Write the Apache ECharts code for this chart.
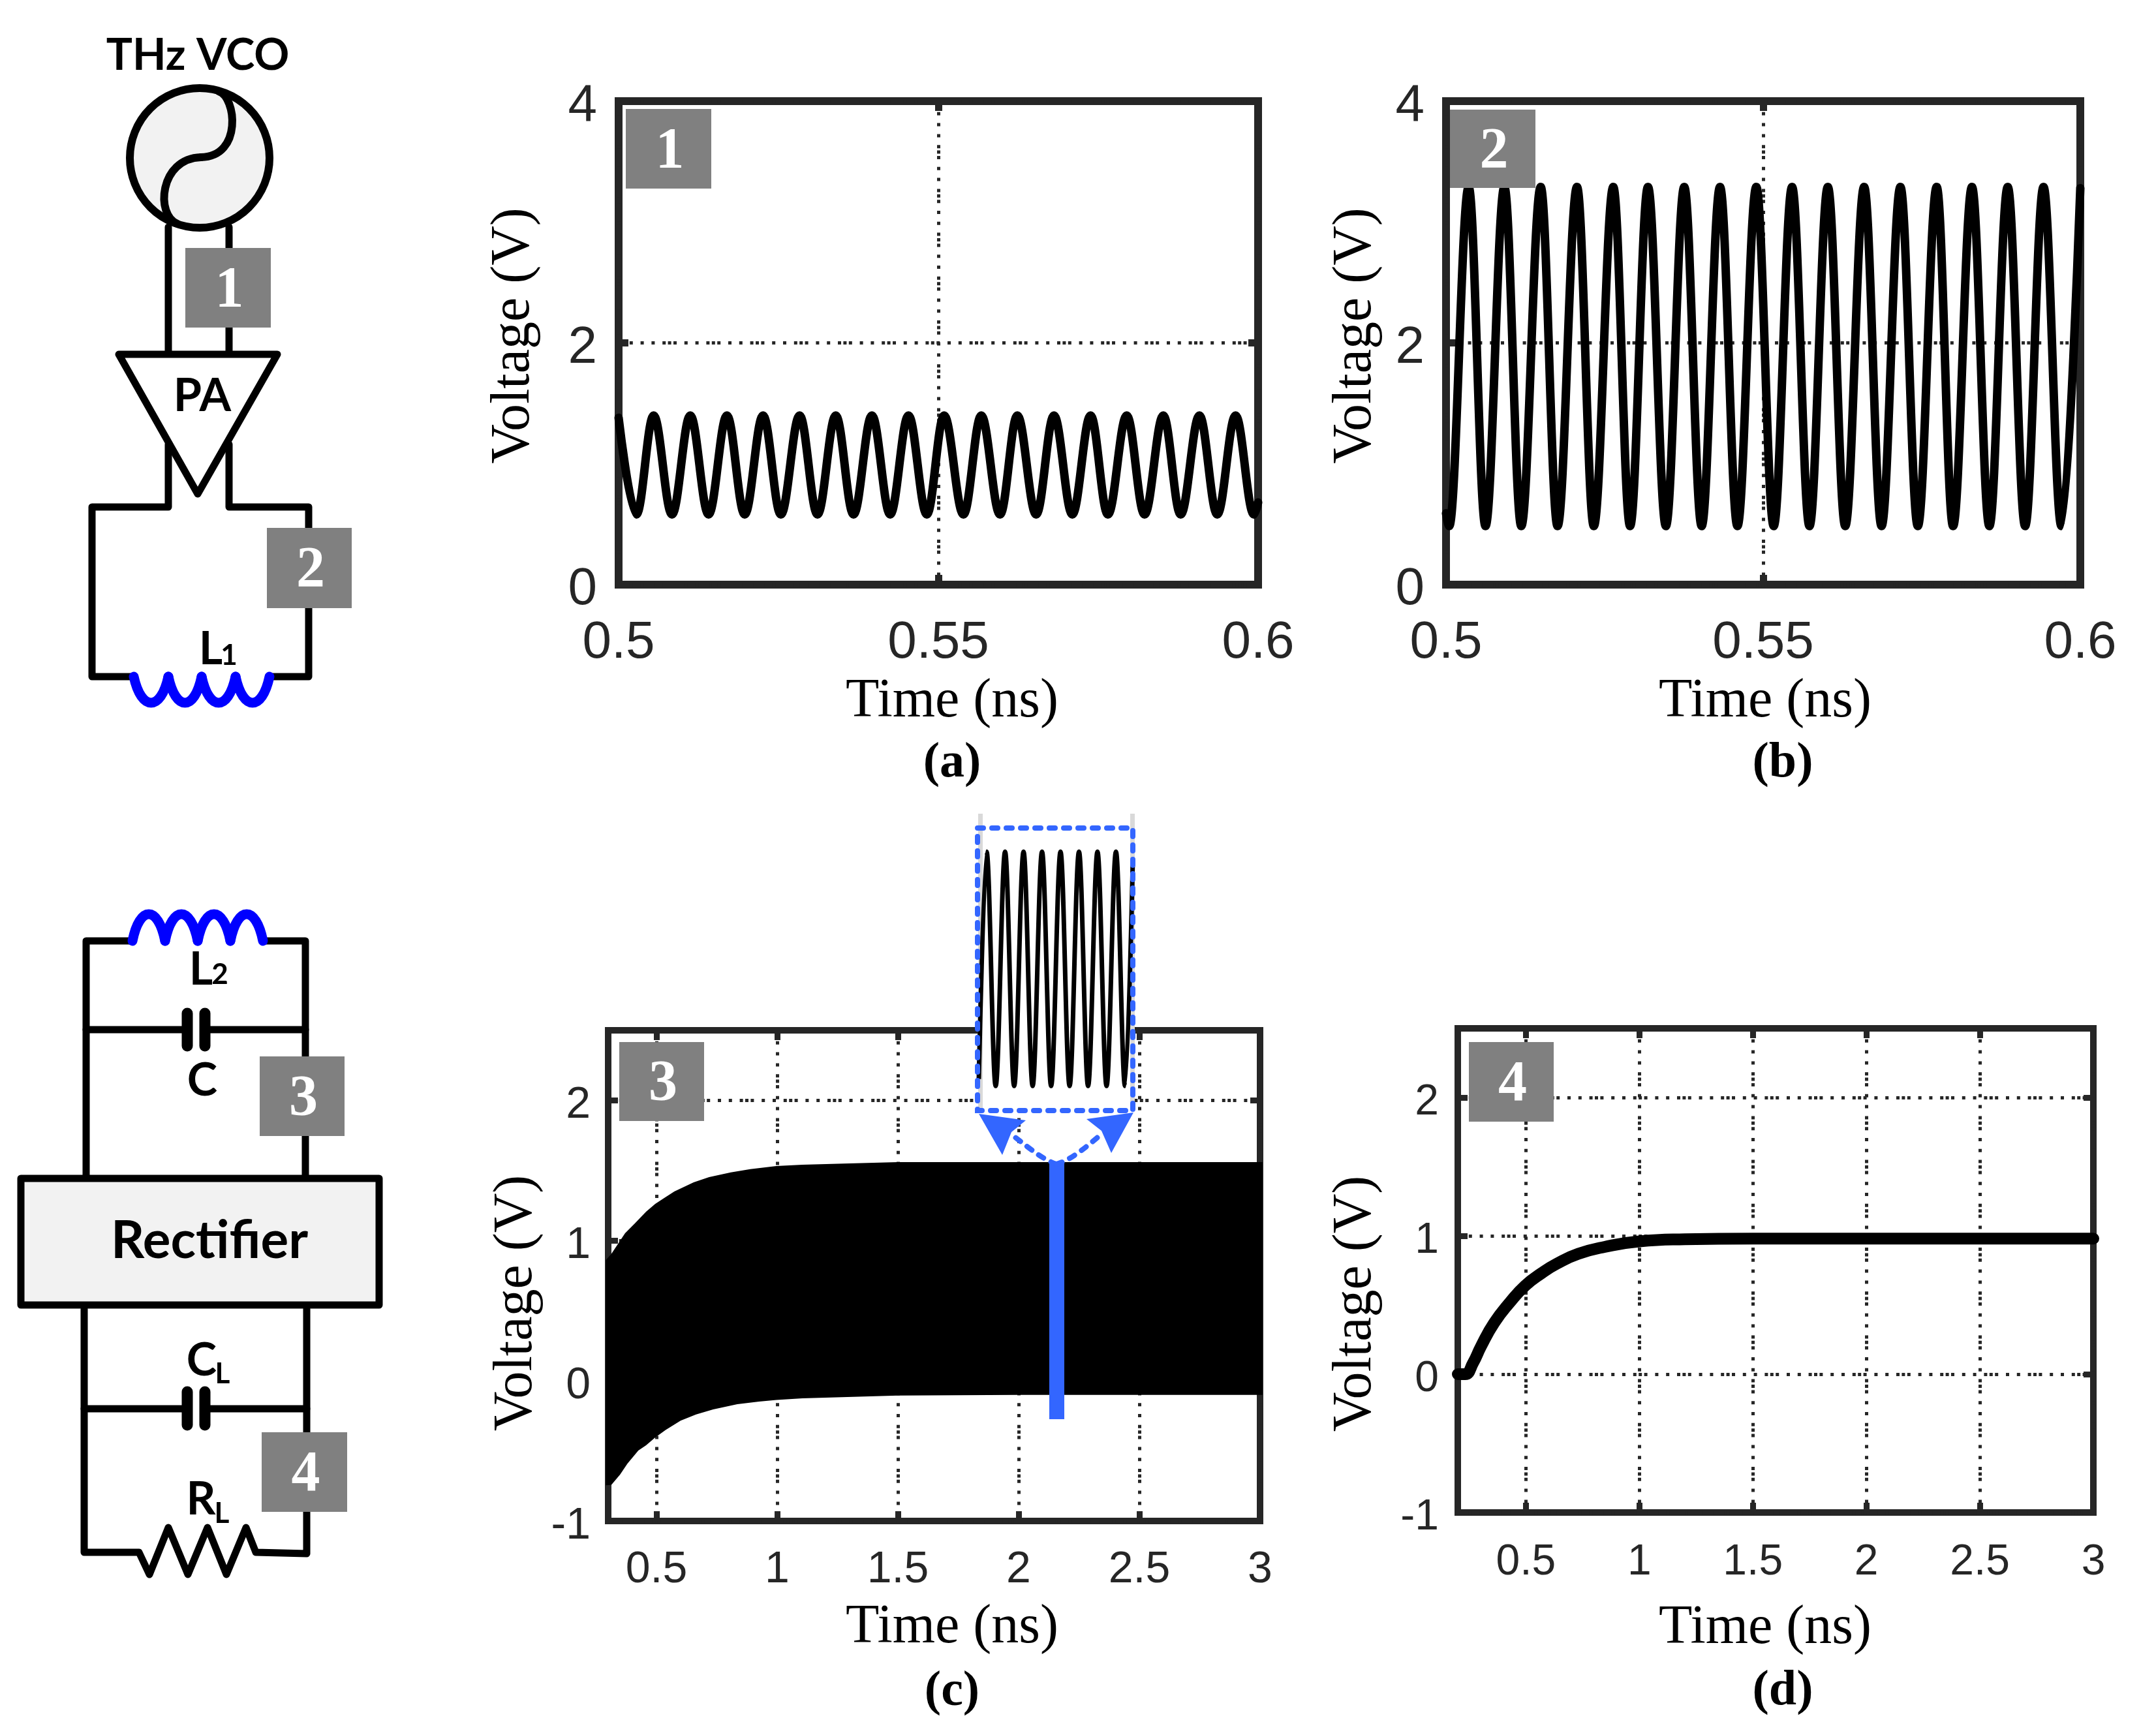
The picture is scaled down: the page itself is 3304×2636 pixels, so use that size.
<!DOCTYPE html>
<html>
<head>
<meta charset="utf-8">
<title>THz VCO waveforms</title>
<style>
html,body{margin:0;padding:0;background:#fff}
#chart{width:3304px;height:2636px}
</style>
<script src="https://cdn.jsdelivr.net/npm/echarts@6/dist/echarts.min.js"></script>
</head>
<body>
<div id="chart"></div>
<script>
// panel (a): node 1, peaks and troughs
var timeA = [0.5,0.50278,0.50548,0.50835,0.51121,0.51407,0.51694,0.51972,0.52259,0.52537,0.52831,0.5311,0.53396,0.53674,0.53961,0.54247,0.54533,0.5482,0.5509,0.55393,0.55671,0.55965,0.56235,0.5653,0.56808,0.57095,0.57381,0.57651,0.57946,0.58224,0.58518,0.58789,0.59083,0.59361,0.59648,0.59934,0.6];
var voltA = [1.38,0.58,1.4,0.58,1.4,0.58,1.4,0.58,1.4,0.58,1.4,0.58,1.4,0.58,1.4,0.58,1.4,0.58,1.4,0.58,1.4,0.58,1.4,0.58,1.4,0.58,1.4,0.58,1.4,0.58,1.4,0.58,1.4,0.58,1.4,0.58,0.68];
// panel (b): node 2
var timeB = [0.5,0.5005,0.50357,0.50622,0.5092,0.51186,0.51493,0.51758,0.52065,0.5233,0.52637,0.52902,0.53184,0.53466,0.53756,0.5403,0.5432,0.54594,0.54892,0.55166,0.55456,0.5573,0.5602,0.56294,0.56592,0.56866,0.57164,0.57438,0.57736,0.57994,0.58292,0.58566,0.58856,0.5913,0.5942,0.59702,0.6];
var voltB = [0.59,0.485,3.29,0.485,3.29,0.485,3.29,0.485,3.29,0.485,3.29,0.485,3.29,0.485,3.29,0.485,3.29,0.485,3.29,0.485,3.29,0.485,3.29,0.485,3.29,0.485,3.29,0.485,3.29,0.485,3.29,0.485,3.29,0.485,3.29,0.485,3.28];
// panel (c): envelope of node 3
var timeUpperC = [0.29,0.313,0.34,0.37,0.411,0.457,0.495,0.529,0.574,0.654,0.718,0.808,0.889,0.997,1.105,1.3,1.5,2,3.01];
var upperC = [0.86,0.905,0.975,1.053,1.123,1.206,1.262,1.3,1.35,1.415,1.453,1.487,1.51,1.532,1.541,1.55,1.56,1.56,1.56];
var timeLowerC = [0.29,0.313,0.349,0.38,0.425,0.457,0.495,0.538,0.6,0.664,0.735,0.835,0.925,0.997,1.105,1.5,2,3.01];
var lowerC = [-0.745,-0.743,-0.669,-0.59,-0.497,-0.46,-0.404,-0.351,-0.284,-0.24,-0.204,-0.167,-0.148,-0.137,-0.125,-0.105,-0.1,-0.1];
// zoomed part of (c)
var timeInset = [2.15,2.1524,2.1552,2.1581,2.1609,2.1638,2.1666,2.1695,2.1723,2.1752,2.178,2.1809,2.1837,2.1866,2.1894,2.1923,2.1951,2.1975];
var voltInset = [-0.05,1.56,-0.1,1.56,-0.1,1.56,-0.1,1.56,-0.1,1.56,-0.1,1.56,-0.1,1.56,-0.1,1.56,-0.1,1.5];
// panel (d): node 4
var timeD = [0.2,0.232,0.267,0.302,0.36,0.43,0.497,0.569,0.638,0.731,0.847,1,1.2,1.5,3];
var voltD = [0,0,0.08,0.2,0.37,0.52,0.64,0.73,0.8,0.87,0.92,0.96,0.975,0.98,0.98];
// ticks
var xTicksTop = [0.5,0.55,0.6];
var yTicksTop = [0,2,4];
var xTicksBottom = [0.5,1,1.5,2,2.5,3];
var yTicksBottom = [-1,0,1,2];

var INK = '#262626';
var BLUE = '#3366ff';
var SANS = '"Liberation Sans"';
var SERIF = '"Liberation Serif"';
var DOTS = [5,3.4,5,3.4,5,11.8,5,11.8,5,11.8];

var grids = [], xAxes = [], yAxes = [], series = [], elements = [];

function pairs(xs, ys){
	return xs.map(function(x, i){ return [x, ys[i]]; });
}

// one framed plot: bottom/left axes carry labels and grid, top/right only the ticks
function addPanel(p){
	grids.push({left:p.left, top:p.top, width:p.width, height:p.height, show:true,
		borderColor:INK, borderWidth:p.frame, backgroundColor:'transparent'});
	var g = grids.length - 1;
	var noLine = {show:false, onZero:false};
	var tick = {show:true, inside:true, length:15, lineStyle:{color:INK, width:p.frame - 1}};
	var grid = {show:true, lineStyle:{color:INK, width:5, type:DOTS}};
	var xLabel = {show:true, customValues:p.xTicks, margin:p.xMargin, color:INK, fontFamily:SANS, fontSize:p.font,
		formatter:function(v){ return String(v); }};
	// the y numbers sit a little under their ticks in the original, a taller line box pushes them down
	var yLabel = {show:true, customValues:p.yTicks, margin:p.yMargin,
		formatter:function(v){ return '{v|' + v + '}'; },
		rich:{v:{color:INK, fontFamily:SANS, fontSize:p.font, lineHeight:p.font + 16, verticalAlign:'bottom'}}};
	var nameStyle = function(pad){
		return {fontFamily:SERIF, fontSize:p.nameFont, color:'#000', padding:pad};
	};
	xAxes.push({type:'value', gridIndex:g, min:p.xMin, max:p.xMax, position:'bottom',
		axisLine:noLine, axisTick:Object.assign({customValues:p.xTicks}, tick), splitLine:grid,
		axisLabel:xLabel, name:'Time (ns)', nameLocation:'middle', nameGap:p.xGap,
		nameTextStyle:nameStyle(p.xPad)});
	xAxes.push({type:'value', gridIndex:g, min:p.xMin, max:p.xMax, position:'top',
		axisLine:noLine, axisTick:Object.assign({customValues:p.xTicks}, tick), splitLine:{show:false},
		axisLabel:{show:false}});
	yAxes.push({type:'value', gridIndex:g, min:p.yMin, max:p.yMax, position:'left',
		axisLine:noLine, axisTick:Object.assign({customValues:p.yTicks}, tick), splitLine:grid,
		axisLabel:yLabel, name:'Voltage (V)', nameLocation:'middle', nameGap:p.yGap,
		nameTextStyle:nameStyle(p.yPad)});
	yAxes.push({type:'value', gridIndex:g, min:p.yMin, max:p.yMax, position:'right',
		axisLine:noLine, axisTick:Object.assign({customValues:p.yTicks}, tick), splitLine:{show:false},
		axisLabel:{show:false}});
	return g * 2;
}

function wave(axis, data, width, smooth, monotone){
	series.push({type:'line', xAxisIndex:axis, yAxisIndex:axis, data:data, showSymbol:false, z:4, silent:true,
		smooth:smooth, smoothMonotone:monotone, lineStyle:{color:'#000', width:width, cap:'round', join:'round'}});
}

var axA = addPanel({left:948, top:155, width:980, height:741, frame:12, font:80, nameFont:84,
	xMin:0.5, xMax:0.6, yMin:0, yMax:4, xTicks:xTicksTop, yTicks:yTicksTop,
	xMargin:50, yMargin:33, xGap:138, yGap:118, xPad:[0,0,0,42], yPad:[0,0,0,22]});
var axB = addPanel({left:2216, top:155, width:972, height:741, frame:12, font:80, nameFont:84,
	xMin:0.5, xMax:0.6, yMin:0, yMax:4, xTicks:xTicksTop, yTicks:yTicksTop,
	xMargin:50, yMargin:33, xGap:138, yGap:96, xPad:[0,0,0,6], yPad:[0,0,0,22]});
var axC = addPanel({left:932, top:1579, width:999, height:752, frame:10, font:68, nameFont:84,
	xMin:0.3, xMax:3, yMin:-1, yMax:2.5, xTicks:xTicksBottom, yTicks:yTicksBottom,
	xMargin:41, yMargin:27, xGap:122, yGap:98, xPad:[0,0,0,55], yPad:[0,84,0,0]});
var axD = addPanel({left:2234, top:1576, width:974, height:742, frame:10, font:66, nameFont:84,
	xMin:0.2, xMax:3, yMin:-1, yMax:2.5, xTicks:xTicksBottom, yTicks:yTicksBottom,
	xMargin:44, yMargin:29, xGap:136, yGap:114, xPad:[0,32,0,0], yPad:[0,102,0,0]});

wave(axA, pairs(timeA, voltA), 13, 0.36, 'x');
wave(axB, pairs(timeB, voltB), 13, 0.36, 'x');
wave(axD, pairs(timeD, voltD), 18, 0.5);

// the oscillation of (c) is too dense to resolve, it prints as a filled band
series.push({type:'custom', xAxisIndex:axC, yAxisIndex:axC, z:4, silent:true, clip:false,
	data:pairs(timeUpperC, upperC),
	encode:{x:0, y:1},
	renderItem:function(params, api){
		if(params.dataIndex !== 0) return null;
		var top = pairs(timeUpperC, upperC).map(function(d){ return api.coord(d); });
		var bottom = pairs(timeLowerC, lowerC).map(function(d){ return api.coord(d); }).reverse();
		return {type:'polygon', shape:{points:top.concat(bottom)}, style:{fill:'#000'}};
	}});

// inset above (c)
grids.push({left:1500, top:1275, width:236, height:411});
xAxes.push({type:'value', gridIndex:4, show:false, min:2.15, max:2.1975});
yAxes.push({type:'value', gridIndex:4, show:false, min:-0.2, max:1.7});
series.push({type:'line', xAxisIndex:8, yAxisIndex:8, data:pairs(timeInset, voltInset), showSymbol:false, z:20, silent:true,
	smooth:0.36, smoothMonotone:'x', lineStyle:{color:'#000', width:7},
	markLine:{silent:true, symbol:'none', label:{show:false}, data:[{yAxis:0.79}],
		lineStyle:{color:INK, width:5, type:DOTS}}});

// ---------- drawing helpers for the schematic and annotations ----------
function wire(points, color, width, z){
	elements.push({type:'polyline', z:z || 6, shape:{points:points},
		style:{stroke:color || '#000', lineWidth:width || 11, fill:null, lineJoin:'round', lineCap:'round'}});
}
function curve(x1, y1, cx1, cy1, cx2, cy2, x2, y2, color, width, dash, z){
	elements.push({type:'bezierCurve', z:z || 6,
		shape:{x1:x1, y1:y1, x2:x2, y2:y2, cpx1:cx1, cpy1:cy1, cpx2:cx2, cpy2:cy2},
		style:{stroke:color, lineWidth:width, fill:null, lineCap:'round', lineDash:dash || null}});
}
function label(x, y, str, font, color, z){
	elements.push({type:'text', x:x, y:y, z:z || 8,
		style:{text:str, font:font, fill:color || '#000', textAlign:'center', textVerticalAlign:'middle'}});
}
function tag(x, y, w, h, str){
	elements.push({type:'rect', z:30, shape:{x:x, y:y, width:w, height:h}, style:{fill:'#808080'}});
	label(x + w / 2 + 2, y + h / 2 + 5, str, 'bold 88px ' + SERIF, '#fff', 31);
}
function coil(joints, base, tip){
	for(var i = 0; i < joints.length - 1; i++){
		var a = joints[i], b = joints[i + 1], cp = base + (tip - base) / 0.75;
		curve(a, base, a + (b - a) * 0.22, cp, a + (b - a) * 0.78, cp, b, base, '#0000ff', 15);
	}
}
function capacitor(plateTop, plateBottom){
	wire([[287, plateTop], [287, plateBottom]], '#000', 17);
	wire([[314, plateTop], [314, plateBottom]], '#000', 17);
}
var BOLD = 'bold 70px Lato';
var SUB = 'bold 44px Lato';

// upper schematic: VCO, PA and L1
wire([[258,348],[258,540]]);
wire([[351,348],[351,540]]);
wire([[258,681],[258,777],[141,777],[141,1037],[205,1037]]);
wire([[351,681],[351,777],[473,777],[473,1037],[413,1037]]);
elements.push({type:'circle', z:7, shape:{cx:306, cy:242, r:107},
	style:{fill:'#f2f2f2', stroke:'#000', lineWidth:12}});
curve(335,140, 362,148, 372,240, 308,241, '#000', 12, null, 7);
curve(308,241, 244,243, 238,330, 272,343, '#000', 12, null, 7);
elements.push({type:'polygon', z:7, shape:{points:[[182,543],[425,543],[303,757]]},
	style:{fill:'#fff', stroke:'#000', lineWidth:11, lineJoin:'round'}});
coil([205,258,309,361,413], 1037, 1077);
label(303, 85, 'THz VCO', 'bold 67px Lato');
label(310, 607, 'PA', BOLD);
label(323, 995, 'L', BOLD);
label(351, 1005, '1', SUB);

// lower schematic: L2/C tank, rectifier, CL and RL
wire([[203,1442],[132,1442],[132,1801]]);
wire([[403,1442],[468,1442],[468,1801]]);
coil([203,253,303,353,403], 1442, 1401);
wire([[132,1578],[287,1578]]);
wire([[314,1578],[468,1578]]);
capacitor(1553, 1603);
wire([[129,2006],[129,2379],[213,2379],[229,2413],[258,2341],[288,2413],[318,2341],[347,2413],[377,2341],[392,2379],[470,2381],[470,2006]]);
wire([[129,2159],[287,2159]]);
wire([[314,2159],[470,2159]]);
capacitor(2133, 2184);
elements.push({type:'rect', z:7, shape:{x:32, y:1806, width:549, height:194},
	style:{fill:'#f2f2f2', stroke:'#000', lineWidth:11, lineJoin:'round'}});
label(321, 1902, 'Rectifier', 'bold 80px Lato');
label(308, 1486, 'L', BOLD);
label(337, 1494, '2', SUB);
label(310, 1656, 'C', BOLD);
label(309, 2085, 'C', BOLD);
label(341, 2106, 'L', SUB);
label(308, 2298, 'R', BOLD);
label(340, 2320, 'L', SUB);

// numbered tags on the schematic and the plots
tag(284, 380, 131, 122, '1');
tag(409, 809, 130, 123, '2');
tag(398, 1619, 130, 122, '3');
tag(401, 2195, 131, 122, '4');
tag(959, 167, 131, 122, '1');
tag(2222, 168, 131, 120, '2');
tag(949, 1597, 130, 121, '3');
tag(2251, 1597, 130, 122, '4');

// zoom call-out on (c)
elements.push({type:'rect', z:10, shape:{x:1498, y:1269, width:238, height:433}, style:{fill:'#fff'}});
elements.push({type:'rect', z:11, shape:{x:1499, y:1247, width:7, height:455}, style:{fill:'#d9d9d9'}});
elements.push({type:'rect', z:11, shape:{x:1732, y:1247, width:7, height:455}, style:{fill:'#d9d9d9'}});
elements.push({type:'rect', z:30, shape:{x:1498, y:1269, width:238, height:433},
	style:{fill:null, stroke:BLUE, lineWidth:8, lineDash:[9,13], lineCap:'round'}});
elements.push({type:'rect', z:30, shape:{x:1608, y:1781, width:23, height:394}, style:{fill:BLUE}});
elements.push({type:'polygon', z:30, shape:{points:[[1500,1707],[1572,1717],[1550,1735],[1536,1770]]}, style:{fill:BLUE}});
elements.push({type:'polygon', z:30, shape:{points:[[1737,1705],[1665,1715],[1688,1733],[1703,1767]]}, style:{fill:BLUE}});
curve(1619,1784, 1600,1778, 1580,1762, 1552,1740, BLUE, 8, [9,13], 30);
curve(1619,1784, 1640,1778, 1660,1762, 1688,1738, BLUE, 8, [9,13], 30);

// sub-figure captions
label(1459, 1170, '(a)', 'bold 76px ' + SERIF);
label(2732, 1170, '(b)', 'bold 76px ' + SERIF);
label(1459, 2593, '(c)', 'bold 76px ' + SERIF);
label(2732, 2592, '(d)', 'bold 76px ' + SERIF);

var chart = echarts.init(document.getElementById('chart'), null, {width:3304, height:2636});
chart.setOption({
	animation:false,
	backgroundColor:'#fff',
	grid:grids,
	xAxis:xAxes,
	yAxis:yAxes,
	series:series,
	graphic:{elements:elements}
});
</script>
</body>
</html>
